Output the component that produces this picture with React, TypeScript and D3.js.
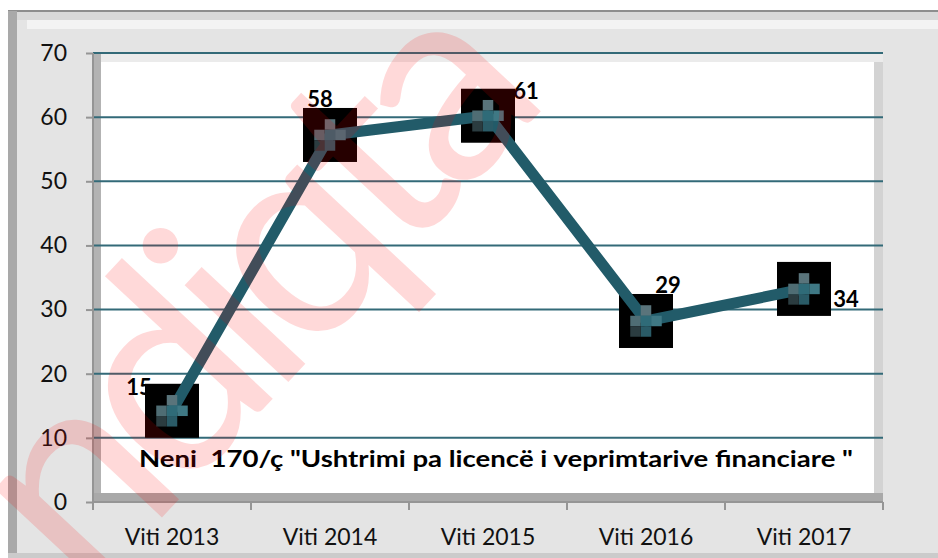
import * as d3 from "d3";
import React, { useEffect, useRef } from "react";

// data
const years = ["Viti 2013", "Viti 2014", "Viti 2015", "Viti 2016", "Viti 2017"];
const cases = [15, 58, 61, 29, 34];
const yTicks = [0, 10, 20, 30, 40, 50, 60, 70];
const chartTitle = 'Neni  170/ç "Ushtrimi pa licencë i veprimtarive financiare "';

// where each value label sits relative to its point (px)
const labelOffsets = [
    [-33, -16],
    [-10, -28],
    [38, -17],
    [22, -28],
    [42, 18],
];

const FONT = "Lato, 'Open Sans', sans-serif";

export default function App() {
    const svgRef = useRef<SVGSVGElement>(null);

    useEffect(() => {
        const W = 938;
        const H = 558;
        const plot = { left: 93, right: 883, top: 53, bottom: 502 };

        const svg = d3.select(svgRef.current);
        svg.selectAll("*").remove();

        // outer chart area
        svg.append("rect").attr("x", 0).attr("y", 0).attr("width", W).attr("height", H).attr("fill", "#ffffff");
        svg.append("rect").attr("x", 8).attr("y", 11).attr("width", W - 8).attr("height", 542).attr("fill", "#e4e4e4");
        svg.append("rect").attr("x", 8).attr("y", 12).attr("width", W - 8).attr("height", 8).attr("fill", "#d9d9d9");
        svg.append("rect").attr("x", 27).attr("y", 20).attr("width", W - 27).attr("height", 9).attr("fill", "#f3f3f3");
        svg.append("rect").attr("x", 8).attr("y", 10).attr("width", W - 8).attr("height", 2).attr("fill", "#8e8e8e");
        svg.append("rect").attr("x", 8).attr("y", 11).attr("width", 9).attr("height", 542).attr("fill", "#a9a9a9");
        svg.append("rect").attr("x", 8).attr("y", 553).attr("width", W - 8).attr("height", 5).attr("fill", "#cbcbcb");

        // plot area with its shaded walls
        svg.append("rect").attr("x", plot.left).attr("y", plot.top)
            .attr("width", plot.right - plot.left).attr("height", plot.bottom - plot.top).attr("fill", "#ffffff");
        svg.append("rect").attr("x", plot.left).attr("y", plot.top).attr("width", plot.right - plot.left).attr("height", 9).attr("fill", "#ebebeb");
        svg.append("rect").attr("x", plot.right - 9).attr("y", plot.top + 9).attr("width", 9).attr("height", plot.bottom - plot.top - 9).attr("fill", "#d3d3d3");
        svg.append("rect").attr("x", plot.left).attr("y", plot.top).attr("width", 8).attr("height", plot.bottom - plot.top).attr("fill", "#b3b3b3");
        svg.append("rect").attr("x", plot.left).attr("y", plot.bottom - 9).attr("width", plot.right - plot.left).attr("height", 9).attr("fill", "#a9a9a9");

        // scales
        const x = d3.scaleBand().domain(years).range([plot.left, plot.right]).padding(0);
        const y = d3.scaleLinear().domain([0, 70]).range([plot.bottom, plot.top]);
        const cx = (d: string) => (x(d) as number) + x.bandwidth() / 2;

        // gridlines
        svg.append("g").selectAll("line")
            .data(yTicks.filter(t => t > 0))
            .enter().append("line")
            .attr("x1", plot.left).attr("x2", plot.right)
            .attr("y1", d => y(d)).attr("y2", d => y(d))
            .attr("stroke", "#336a78").attr("stroke-width", 2);

        // y axis
        const yAxis = d3.axisLeft(y).tickValues(yTicks).tickSize(7).tickPadding(19).tickSizeOuter(0);
        const yg = svg.append("g").attr("transform", `translate(${plot.left},0)`).call(yAxis);
        yg.select(".domain").attr("stroke", "#959595").attr("stroke-width", 2)
            .attr("d", `M0,${plot.top}V${plot.bottom + 8}`);
        yg.selectAll(".tick line").attr("stroke", "#959595").attr("stroke-width", 2);
        yg.selectAll(".tick text").attr("font-family", FONT).attr("font-size", 23).attr("fill", "#111");

        // x axis: line, boundary ticks, labels
        svg.append("line").attr("x1", plot.left).attr("x2", plot.right)
            .attr("y1", plot.bottom).attr("y2", plot.bottom)
            .attr("stroke", "#959595").attr("stroke-width", 2);
        const bounds = years.map(d => x(d) as number).concat([plot.right]);
        svg.append("g").selectAll("line")
            .data(bounds)
            .enter().append("line")
            .attr("x1", d => d).attr("x2", d => d)
            .attr("y1", plot.bottom).attr("y2", plot.bottom + 8)
            .attr("stroke", "#959595").attr("stroke-width", 2);
        svg.append("g").selectAll("text")
            .data(years)
            .enter().append("text")
            .attr("x", d => cx(d)).attr("y", 545)
            .attr("text-anchor", "middle")
            .attr("font-family", FONT).attr("font-size", 23).attr("fill", "#111")
            .text(d => d);

        // series (drawn with the chart's slight drop offset)
        const series = svg.append("g").attr("transform", "translate(0,5)");
        const pts = years.map((d, i) => [cx(d), y(cases[i])] as [number, number]);

        series.selectAll("rect.box")
            .data(pts)
            .enter().append("rect")
            .attr("class", "box")
            .attr("x", d => d[0] - 27).attr("y", d => d[1] - 27)
            .attr("width", 54).attr("height", 54)
            .attr("fill", "#000");

        series.append("path")
            .attr("d", d3.line()(pts))
            .attr("fill", "none")
            .attr("stroke", "#225b69")
            .attr("stroke-width", 11)
            .attr("stroke-linejoin", "round");

        // pixelated cross markers
        const cell = 10.5;
        const crossCells = [
            [0, -1, "#5a747b"],
            [-1, 0, "#4f6d74"],
            [0, 0, "#2f6b78"],
            [1, 0, "#3f7884"],
            [0, 1, "#2a5b67"],
            [-1, 1, "#2b3c40"],
        ];
        pts.forEach(p => {
            series.append("g").selectAll("rect")
                .data(crossCells)
                .enter().append("rect")
                .attr("x", d => p[0] - cell / 2 + (d[0] as number) * cell)
                .attr("y", d => p[1] - cell / 2 + (d[1] as number) * cell)
                .attr("width", cell).attr("height", cell)
                .attr("fill", d => d[2] as string);
        });

        // value labels
        series.append("g").selectAll("text")
            .data(cases)
            .enter().append("text")
            .attr("x", (d, i) => pts[i][0] + labelOffsets[i][0])
            .attr("y", (d, i) => pts[i][1] + labelOffsets[i][1])
            .attr("text-anchor", "middle")
            .attr("font-family", FONT).attr("font-weight", "bold").attr("font-size", 22).attr("fill", "#000")
            .text(d => d);

        // title inside the plot area
        svg.append("text")
            .attr("x", 139).attr("y", 467)
            .attr("font-family", FONT).attr("font-weight", "bold").attr("font-size", 23).attr("fill", "#000")
            .attr("textLength", 714).attr("lengthAdjust", "spacingAndGlyphs")
            .style("white-space", "pre")
            .text(chartTitle);

        // watermark over everything, clipped to the image like in the source
        svg.append("clipPath").attr("id", "wm-clip")
            .append("rect").attr("width", W).attr("height", H);
        svg.append("g").attr("clip-path", "url(#wm-clip)")
            .append("text")
            .attr("transform", "translate(85,600) rotate(-47)")
            .attr("font-family", FONT).attr("font-size", 280)
            .attr("letter-spacing", -18)
            .attr("fill", "#ff0000").attr("fill-opacity", 0.15)
            .text("ndiqta");
    }, []);

    return (
        <svg ref={svgRef} width={938} height={558}
            style={{ position: "absolute", left: 0, top: 0, display: "block" }} />
    );
}
